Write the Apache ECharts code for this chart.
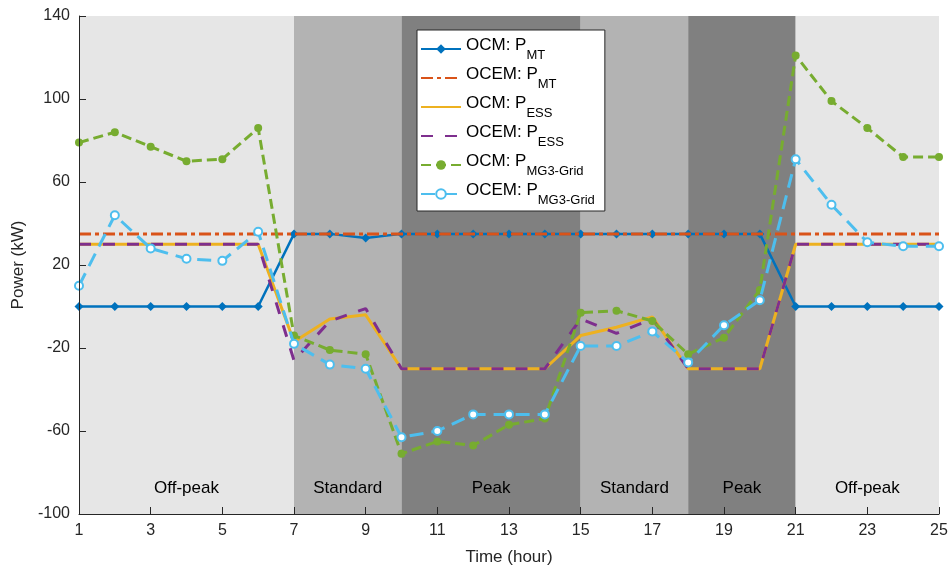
<!DOCTYPE html>
<html>
<head>
<meta charset="utf-8">
<script src="https://cdn.jsdelivr.net/npm/echarts@6/dist/echarts.min.js"></script>
<style>html,body{margin:0;padding:0;background:#fff}#c{width:952px;height:572px}</style>
</head>
<body>
<div id="c"></div>
<script>
var hours = [1,2,3,4,5,6,7,8,9,10,11,12,13,14,15,16,17,18,19,20,21,22,23,24,25];
var ocmMT   = [0,0,0,0,0,0,35,35,33,35,35,35,35,35,35,35,35,35,35,35,0,0,0,0,0];
var ocemMT  = [35,35,35,35,35,35,35,35,35,35,35,35,35,35,35,35,35,35,35,35,35,35,35,35,35];
var ocmESS  = [30,30,30,30,30,30,-17,-6,-4,-30,-30,-30,-30,-30,-14,-10,-5,-30,-30,-30,30,30,30,30,30];
var ocemESS = [30,30,30,30,30,30,-26,-7,-1,-30,-30,-30,-30,-30,-6,-13,-6,-30,-30,-30,30,30,30,30,30];
var ocmGrid = [79,84,77,70,71,86,-14,-21,-23,-71,-65,-67,-57,-54,-3,-2,-7,-23,-15,8,121,99,86,72,72];
var ocemGrid= [10,44,28,23,22,36,-18,-28,-30,-63,-60,-52,-52,-52,-19,-19,-12,-27,-9,3,71,49,31,29,29];
var xTicks = [1,3,5,7,9,11,13,15,17,19,21,23,25];
var yTicks = [-100,-60,-20,20,60,100,140];
var bandStart = [1,7,10,15,18,21];
var bandEnd   = [7,10,15,18,21,25];
var bandLabel = ['Off-peak','Standard','Peak','Standard','Peak','Off-peak'];
var bandShade = ['#e6e6e6','#b3b3b3','#808080','#b3b3b3','#808080','#e6e6e6'];
var seriesNames = ['OCM: P_MT','OCEM: P_MT','OCM: P_ESS','OCEM: P_ESS','OCM: P_MG3-Grid','OCEM: P_MG3-Grid'];

function pairs(v){ return hours.map(function(h,i){ return [h, v[i]]; }); }
var font = 'Liberation Sans, Arial, Helvetica, sans-serif';
var ink = '#262626';

var areas = bandStart.map(function(s,i){
  return [{xAxis: s, name: bandLabel[i], itemStyle:{color: bandShade[i], opacity:1}}, {xAxis: bandEnd[i]}];
});

var legendData = seriesNames.map(function(n,i){
  if (i>=1 && i<=3) return {name:n, itemStyle:{opacity:0}};
  return {name:n};
});

var chart = echarts.init(document.getElementById('c'), null, {renderer:'canvas'});
var option = {
  animation:false,
  backgroundColor:'#fff',
  textStyle:{fontFamily:font},
  grid:{left:79, right:13, top:16, bottom:58, containLabel:false},
  legend:{
    orient:'vertical', left:417, top:30, z:20,
    backgroundColor:'#fff', borderColor:ink, borderWidth:1,
    padding:[6,10,4,3], itemGap:3, itemWidth:40, itemHeight:12,
    data: legendData,
    formatter:function(n){ var p=n.split('_'); return '{a|'+p[0]+'}{s|'+p[1]+'}'; },
    textStyle:{
      color:'#000', fontFamily:font,
      rich:{ a:{fontSize:17, color:'#000', fontFamily:font, lineHeight:26, verticalAlign:'top', padding:[1,0,0,0]},
             s:{fontSize:13, color:'#000', fontFamily:font, lineHeight:26, verticalAlign:'bottom', padding:[0,0,0,0]} }
    }
  },
  xAxis:{
    type:'value', min:1, max:25, z:10,
    name:'Time (hour)', nameLocation:'middle', nameGap:35,
    nameTextStyle:{fontSize:17, color:ink, fontFamily:font},
    axisLine:{show:true, onZero:false, lineStyle:{color:ink, width:1}},
    axisTick:{show:true, inside:true, length:7, customValues:xTicks, lineStyle:{color:ink}},
    axisLabel:{customValues:xTicks, fontSize:16, color:ink, margin:9, fontFamily:font},
    splitLine:{show:false}
  },
  yAxis:{
    type:'value', min:-100, max:140, z:10,
    name:'Power (kW)', nameLocation:'middle', nameGap:44,
    nameTextStyle:{fontSize:17, color:ink, fontFamily:font},
    axisLine:{show:true, onZero:false, lineStyle:{color:ink, width:1}},
    axisTick:{show:true, inside:true, length:7, customValues:yTicks, lineStyle:{color:ink}},
    axisLabel:{customValues:yTicks, fontSize:16, color:ink, margin:9, fontFamily:font},
    splitLine:{show:false}
  },
  series:[
    {name:seriesNames[0], type:'line', data:pairs(ocmMT), z:3,
     symbol:'diamond', symbolSize:9, color:'#0072BD',
     lineStyle:{width:2.5, type:'solid'}, itemStyle:{color:'#0072BD'},
     markArea:{silent:true, z:1, data:areas,
       label:{show:true, position:'insideBottom', distance:17, fontSize:17, color:'#000', fontFamily:font}}},
    {name:seriesNames[1], type:'line', data:pairs(ocemMT), z:4,
     symbol:'none', color:'#D95319',
     lineStyle:{width:3, type:[12,4,4,4]}},
    {name:seriesNames[2], type:'line', data:pairs(ocmESS), z:5,
     symbol:'none', color:'#EDB120',
     lineStyle:{width:3, type:'solid'}},
    {name:seriesNames[3], type:'line', data:pairs(ocemESS), z:6,
     symbol:'none', color:'#7E2F8E',
     lineStyle:{width:3, type:[12,12]}},
    {name:seriesNames[4], type:'line', data:pairs(ocmGrid), z:7,
     symbol:'circle', symbolSize:8, color:'#77AC30',
     lineStyle:{width:3, type:[10,5]}, itemStyle:{color:'#77AC30'}},
    {name:seriesNames[5], type:'line', data:pairs(ocemGrid), z:8,
     symbol:'emptyCircle', symbolSize:8, color:'#4DBEEE',
     lineStyle:{width:3, type:[14,8]}, itemStyle:{color:'#4DBEEE', borderWidth:2, borderColor:'#4DBEEE'}}
  ]
};
chart.setOption(option);
</script>
</body>
</html>
